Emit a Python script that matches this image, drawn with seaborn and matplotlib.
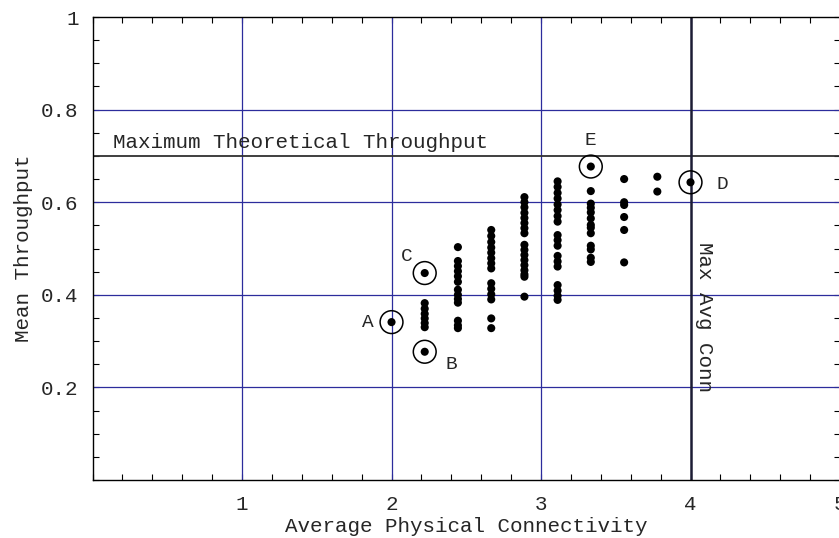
import matplotlib
matplotlib.use("Agg")
import matplotlib.pyplot as plt
import pandas as pd
import seaborn as sns
from matplotlib.ticker import MultipleLocator

# Average physical connectivity levels of the tested topologies
conn_levels = [2.0, 2.222, 2.444, 2.667, 2.889, 3.111, 3.333, 3.556, 3.778, 4.0]

# Mean throughput of every topology, grouped by connectivity level
thr_2_000 = [0.341]
thr_2_222 = [0.447, 0.382, 0.370, 0.359, 0.349, 0.339, 0.330, 0.277]
thr_2_444 = [0.503, 0.473, 0.462, 0.451, 0.440, 0.428, 0.411, 0.400, 0.391, 0.383,
             0.344, 0.334, 0.328]
thr_2_667 = [0.540, 0.527, 0.514, 0.502, 0.491, 0.479, 0.468, 0.457, 0.425, 0.413,
             0.401, 0.390, 0.349, 0.328]
thr_2_889 = [0.611, 0.600, 0.589, 0.577, 0.566, 0.555, 0.544, 0.533, 0.508, 0.497,
             0.486, 0.475, 0.464, 0.453, 0.444, 0.439, 0.396]
thr_3_111 = [0.645, 0.633, 0.620, 0.608, 0.595, 0.583, 0.570, 0.558, 0.529, 0.518,
             0.506, 0.484, 0.472, 0.461, 0.421, 0.409, 0.398, 0.389]
thr_3_333 = [0.677, 0.624, 0.597, 0.588, 0.578, 0.565, 0.551, 0.545, 0.533, 0.506,
             0.498, 0.480, 0.471]
thr_3_556 = [0.650, 0.600, 0.594, 0.568, 0.540, 0.470]
thr_3_778 = [0.655, 0.623]
thr_4_000 = [0.643]
thr_by_level = [thr_2_000, thr_2_222, thr_2_444, thr_2_667, thr_2_889,
                thr_3_111, thr_3_333, thr_3_556, thr_3_778, thr_4_000]

# Topologies singled out in the discussion
marked_names = ["A", "B", "C", "D", "E"]
marked_conn = [2.0, 2.222, 2.222, 4.0, 3.333]
marked_thr = [0.341, 0.277, 0.447, 0.643, 0.677]

# Reference limits
max_theoretical_thr = 0.7
max_avg_conn = 4.0

x_ticks = [1, 2, 3, 4, 5]
x_ticklabels = ["1", "2", "3", "4", "5"]
y_ticks = [0.2, 0.4, 0.6, 0.8, 1.0]
y_ticklabels = ["0.2", "0.4", "0.6", "0.8", "1"]

points = pd.DataFrame(
    [(c, t) for c, ts in zip(conn_levels, thr_by_level) for t in ts],
    columns=["conn", "thr"],
)
marked = pd.DataFrame({"name": marked_names, "conn": marked_conn, "thr": marked_thr})

sns.set_style("white")
plt.rcParams["font.family"] = ["Liberation Mono", "DejaVu Sans Mono"]
plt.rcParams["font.size"] = 15

fig = plt.figure(figsize=(8.39, 5.38), dpi=100)
ax = fig.add_axes([0.1103, 0.1078, 0.8909, 0.8606])

grid_blue = "#2c2c9c"
for gx in x_ticks[:3]:
    ax.axvline(gx, color=grid_blue, lw=0.9, zorder=1)
for gy in y_ticks[:4]:
    ax.axhline(gy, color=grid_blue, lw=0.9, zorder=1)

ax.axhline(max_theoretical_thr, color="#303030", lw=1.3, zorder=2)
ax.axvline(max_avg_conn, color="#1c1c34", lw=1.8, zorder=2)

sns.scatterplot(data=points, x="conn", y="thr", ax=ax, color="black",
                s=34, edgecolor="none", legend=False, zorder=4)
sns.scatterplot(data=marked, x="conn", y="thr", ax=ax, marker="o", s=270,
                facecolor="none", edgecolor="black", linewidth=1.1,
                legend=False, zorder=5)

label_offsets = {"A": (-17, 0), "B": (19, -9.5), "C": (-13, 12),
                 "D": (23, -1.5), "E": (0, 18.5)}
for name, cx, ty in zip(marked_names, marked_conn, marked_thr):
    ax.annotate(name, (cx, ty), xytext=label_offsets[name], textcoords="offset points",
                ha="center", va="center", fontsize=14)

ax.text(0.137, 0.728, "Maximum Theoretical Throughput", ha="left", va="center",
        fontsize=15)
ax.text(4.094, 0.352, "Max Avg Conn", rotation=-90, ha="center", va="center",
        fontsize=15)

ax.set_xlim(0, 5)
ax.set_ylim(0, 1)
ax.set_xticks(x_ticks, x_ticklabels)
ax.set_yticks(y_ticks, y_ticklabels)
ax.xaxis.set_minor_locator(MultipleLocator(0.2))
ax.yaxis.set_minor_locator(MultipleLocator(0.05))
ax.tick_params(which="both", direction="in", length=4, width=0.8, color="black",
               top=True, right=True, bottom=True, left=True)
ax.tick_params(axis="x", which="major", pad=11)
ax.tick_params(axis="y", which="major", pad=10)

ax.set_xlabel("Average Physical Connectivity", labelpad=2)
ax.set_ylabel("Mean Throughput", labelpad=6)

for sp in ax.spines.values():
    sp.set_color("black")
    sp.set_linewidth(1.0)

fig.savefig("out.png", dpi=100)
